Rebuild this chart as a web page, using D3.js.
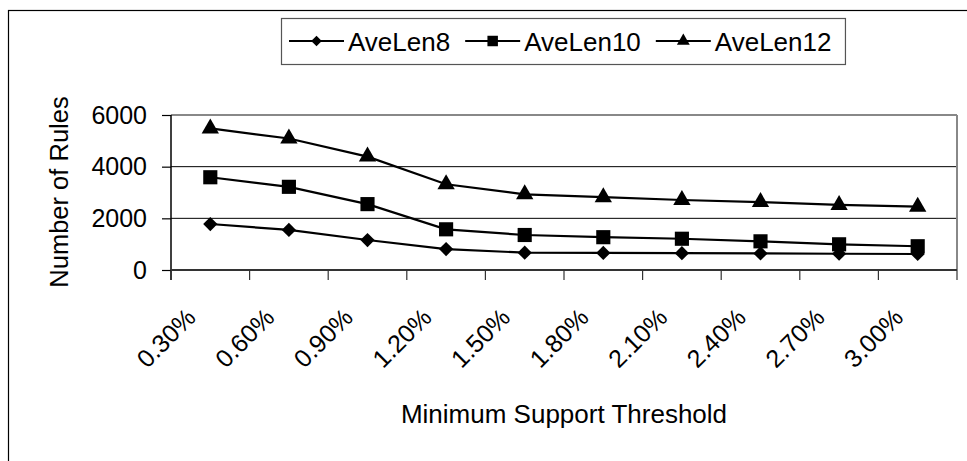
<!DOCTYPE html>
<html>
<head>
<meta charset="utf-8">
<script src="https://cdn.jsdelivr.net/npm/d3@7"></script>
<style>
  body { margin: 0; background: #fff; }
  svg { display: block; font-family: Arial, 'Liberation Sans', sans-serif; }
</style>
</head>
<body>
<div class="canvas"></div>
<script>
// data
const categories = ['0.30%', '0.60%', '0.90%', '1.20%', '1.50%', '1.80%', '2.10%', '2.40%', '2.70%', '3.00%'];
const aveLen8  = [1780, 1550, 1160, 810, 670, 660, 650, 640, 630, 620];
const aveLen10 = [3590, 3220, 2550, 1575, 1355, 1270, 1210, 1110, 995, 920];
const aveLen12 = [5480, 5090, 4390, 3320, 2930, 2820, 2710, 2630, 2520, 2450];
const seriesNames = ['AveLen8', 'AveLen10', 'AveLen12'];
const yTicks = [0, 2000, 4000, 6000];

const series = [
  { name: seriesNames[0], values: aveLen8,  symbol: d3.symbolDiamond2, size: 130 },
  { name: seriesNames[1], values: aveLen10, symbol: d3.symbolSquare,   size: 200 },
  { name: seriesNames[2], values: aveLen12, symbol: d3.symbolTriangle, size: 130 }
];

const dims = { w: 967, h: 461 };
const plot = { left: 171, right: 957, top: 115, bottom: 270 };

const svg = d3.select('.canvas')
  .append('svg')
    .attr('width', dims.w)
    .attr('height', dims.h);

// outer chart border
svg.append('rect')
  .attr('x', 8.5).attr('y', 10.5)
  .attr('width', 1000).attr('height', 500)
  .attr('fill', 'none').attr('stroke', '#000').attr('stroke-width', 1.2);

// scales
const x = d3.scaleBand()
  .domain(categories)
  .range([plot.left, plot.right]);

const y = d3.scaleLinear()
  .domain([0, 6000])
  .range([plot.bottom, plot.top]);

// gridlines (top one is the grey plot border)
svg.append('g')
  .selectAll('line')
  .data(yTicks.filter(d => d > 0))
  .join('line')
    .attr('x1', plot.left).attr('x2', plot.right)
    .attr('y1', d => y(d)).attr('y2', d => y(d))
    .attr('stroke', d => d === 6000 ? '#888' : '#000')
    .attr('stroke-width', d => d === 6000 ? 2 : 1);

// right border of plot area
svg.append('line')
  .attr('x1', plot.right).attr('x2', plot.right)
  .attr('y1', plot.top).attr('y2', plot.bottom)
  .attr('stroke', '#888').attr('stroke-width', 2);

// y axis
const yAxis = d3.axisLeft(y)
  .tickValues(yTicks)
  .tickFormat(d3.format('d'))
  .tickSize(9)
  .tickPadding(15);

const yAxisG = svg.append('g')
  .attr('transform', `translate(${plot.left},0)`)
  .call(yAxis);
yAxisG.select('.domain').attr('stroke', '#000').attr('stroke-width', 1.5)
  .attr('d', `M0,${plot.top}V${plot.bottom + 10}`);
yAxisG.selectAll('.tick line').attr('stroke', '#000').attr('stroke-width', 1.2);
yAxisG.selectAll('.tick text')
  .attr('font-size', 25).attr('fill', '#000')
  .attr('font-family', 'Arial, Liberation Sans, sans-serif');

// x axis: ticks at category boundaries
const boundaries = categories.map(c => x(c)).concat([plot.right]);
const xAxisG = svg.append('g');
xAxisG.append('line')
  .attr('x1', plot.left).attr('x2', plot.right)
  .attr('y1', plot.bottom).attr('y2', plot.bottom)
  .attr('stroke', '#333').attr('stroke-width', 2);
xAxisG.selectAll('line.tick')
  .data(boundaries)
  .join('line')
    .attr('class', 'tick')
    .attr('x1', d => d).attr('x2', d => d)
    .attr('y1', plot.bottom).attr('y2', plot.bottom + 10)
    .attr('stroke', '#333').attr('stroke-width', 1.2);

// rotated category labels
xAxisG.selectAll('text')
  .data(categories)
  .join('text')
    .attr('transform', d => `translate(${x(d) + x.bandwidth() / 2 - 13},${plot.bottom + 49}) rotate(-45)`)
    .attr('text-anchor', 'end')
    .attr('font-size', 25)
    .text(d => d);

// axis titles
svg.append('text')
  .attr('transform', `translate(68,192) rotate(-90)`)
  .attr('text-anchor', 'middle')
  .attr('font-size', 25.5)
  .text('Number of Rules');

svg.append('text')
  .attr('x', (plot.left + plot.right) / 2)
  .attr('y', 423)
  .attr('text-anchor', 'middle')
  .attr('font-size', 26)
  .text('Minimum Support Threshold');

// lines and markers
const line = d3.line()
  .x((d, i) => x(categories[i]) + x.bandwidth() / 2)
  .y(d => y(d));

const seriesG = svg.append('g')
  .selectAll('g')
  .data(series)
  .join('g');

seriesG.append('path')
  .attr('d', d => line(d.values))
  .attr('fill', 'none')
  .attr('stroke', '#000')
  .attr('stroke-width', 2.2);

seriesG.each(function(s) {
  d3.select(this).selectAll('path.mark')
    .data(s.values)
    .join('path')
      .attr('class', 'mark')
      .attr('d', d3.symbol(s.symbol, s.size))
      .attr('transform', (d, i) => `translate(${x(categories[i]) + x.bandwidth() / 2},${y(d)})`)
      .attr('fill', '#000');
});

// legend
const legendG = svg.append('g');
const legendBox = legendG.append('rect')
  .attr('fill', '#fff').attr('stroke', '#555').attr('stroke-width', 1.2);

let cursor = 289;
const legendY = 41;
series.forEach(s => {
  legendG.append('line')
    .attr('x1', cursor).attr('x2', cursor + 55)
    .attr('y1', legendY).attr('y2', legendY)
    .attr('stroke', '#000').attr('stroke-width', 2.2);
  legendG.append('path')
    .attr('d', d3.symbol(s.symbol, s.size * 0.55))
    .attr('transform', `translate(${cursor + 27.5},${legendY})`)
    .attr('fill', '#000');
  const t = legendG.append('text')
    .attr('x', cursor + 59)
    .attr('y', legendY + 10)
    .attr('font-size', 26)
    .text(s.name);
  cursor += 59 + t.node().getComputedTextLength() + 15;
});

legendBox
  .attr('x', 281.5).attr('y', 18.5)
  .attr('width', cursor - 1 - 281.5).attr('height', 46);
</script>
</body>
</html>
